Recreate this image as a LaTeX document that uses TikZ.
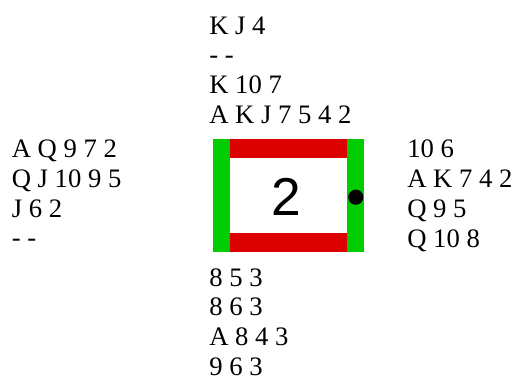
\documentclass[tikz,border=0pt]{standalone}
\usepackage{fontspec}
\setmainfont{Liberation Serif}
\setsansfont{Liberation Sans}
\usepackage{tikz}
\usetikzlibrary{calc,positioning}
\definecolor{bargreen}{HTML}{00CC00}
\definecolor{barred}{HTML}{DD0000}
\tikzset{
  hand/.style={align=left, anchor=north west, inner sep=0pt,
    font=\fontsize{20}{22.3}\selectfont},
}

\begin{document}
\begin{tikzpicture}[x=0.75pt,y=-0.75pt]
\useasboundingbox (0,0) rectangle (515,376);
\fill[barred] (230,139.3) rectangle (347.3,157.7); %top
\fill[barred] (230,233.3) rectangle (347.3,252.3); %bottom
\fill[bargreen] (212.7,139.3) rectangle (230,252.3); %left
\fill[bargreen] (347.3,139.3) rectangle (364,252.3); %right
\node[font=\sffamily\fontsize{40}{40}\selectfont, inner sep=0pt] (trick) at (286.2,196.8) {2};
\fill (355.8,197.2) circle[radius=7.6];
\node[hand] (north) at (209,16.2) {K J 4\\- -\\K 10 7\\A K J 7 5 4 2};
\node[hand] (west) at (11.5,139.8) {A Q 9 7 2\\Q J 10 9 5\\J 6 2\\- -};
\node[hand] (east) at (407,139.8) {10 6\\A K 7 4 2\\Q 9 5\\Q 10 8};
\node[hand] (south) at (209,268) {8 5 3\\8 6 3\\A 8 4 3\\9 6 3};
\end{tikzpicture}
\end{document}
